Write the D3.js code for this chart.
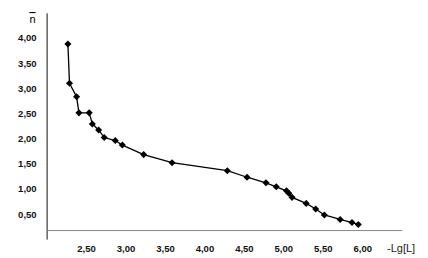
<!DOCTYPE html>
<html>
    <head>
        <script src="https://d3js.org/d3.v7.min.js"></script>
        <style>
            body { margin: 0; background: #fff; }
            svg { display: block; }
            .tick text { font-family: "Liberation Sans", Arial, sans-serif; font-size: 9.5px; font-weight: bold; fill: #111; }
        </style>
    </head>
    <body>
        <div class="v1">
            <script>
                // data: -Lg[L] against n-bar
                let lgL = [2.27, 2.29, 2.38, 2.41, 2.54, 2.58, 2.66, 2.73, 2.87, 2.96, 3.23, 3.59, 4.29,
                           4.54, 4.78, 4.91, 5.04, 5.07, 5.11, 5.29, 5.41, 5.52, 5.72, 5.87, 5.95];
                let nBar = [3.88, 3.10, 2.83, 2.51, 2.51, 2.29, 2.17, 2.02, 1.96, 1.87, 1.68, 1.52, 1.36,
                            1.23, 1.12, 1.04, 0.96, 0.91, 0.83, 0.71, 0.60, 0.48, 0.39, 0.33, 0.29];
                let xTicks = [2.5, 3.0, 3.5, 4.0, 4.5, 5.0, 5.5, 6.0];
                let yTicks = [0.5, 1.0, 1.5, 2.0, 2.5, 3.0, 3.5, 4.0];

                let svg = d3.select("div.v1").append("svg")
                    .attr("width", 428)
                    .attr("height", 258);

                let x = d3.scaleLinear().domain([2, 6.5]).range([46.6, 401.7]);
                let y = d3.scaleLinear().domain([0, 4.5]).range([239.1, 12.8]);
                let fmt = d => d3.format(".2f")(d).replace(".", ",");

                // y axis
                let ya = svg.append("g")
                    .attr("transform", "translate(46.6,0)")
                    .call(d3.axisLeft(y).tickValues(yTicks).tickFormat(fmt).tickSize(0).tickPadding(10));
                ya.select(".domain").attr("stroke", "#111").attr("stroke-width", 1);

                // x axis crosses a bit above zero
                let xa = svg.append("g")
                    .attr("transform", `translate(0,${y(0.18)})`)
                    .call(d3.axisBottom(x).tickValues(xTicks).tickFormat(fmt).tickSize(0).tickPadding(15));
                xa.select(".domain").attr("stroke", "#888").attr("stroke-width", 1);

                // axis titles
                svg.append("text")
                    .attr("x", 32.5).attr("y", 23)
                    .attr("text-anchor", "middle")
                    .style("font-family", "Liberation Sans, Arial, sans-serif")
                    .style("font-size", "11px")
                    .style("text-decoration", "overline")
                    .text("n");
                svg.append("text")
                    .attr("x", 387).attr("y", 252)
                    .style("font-family", "Liberation Sans, Arial, sans-serif")
                    .style("font-size", "11px")
                    .style("fill", "#222")
                    .text("-Lg[L]");

                let pts = lgL.map((v, i) => [v, nBar[i]]);

                svg.append("path")
                    .datum(pts)
                    .attr("fill", "none")
                    .attr("stroke", "#000")
                    .attr("stroke-width", 1.3)
                    .attr("d", d3.line().x(d => x(d[0])).y(d => y(d[1])));

                svg.selectAll("path.m")
                    .data(pts)
                    .join("path")
                    .attr("class", "m")
                    .attr("transform", d => `translate(${x(d[0])},${y(d[1])}) rotate(45)`)
                    .attr("d", d3.symbol().type(d3.symbolSquare).size(25))
                    .attr("fill", "#000");
            </script>
        </div>
    </body>
</html>
